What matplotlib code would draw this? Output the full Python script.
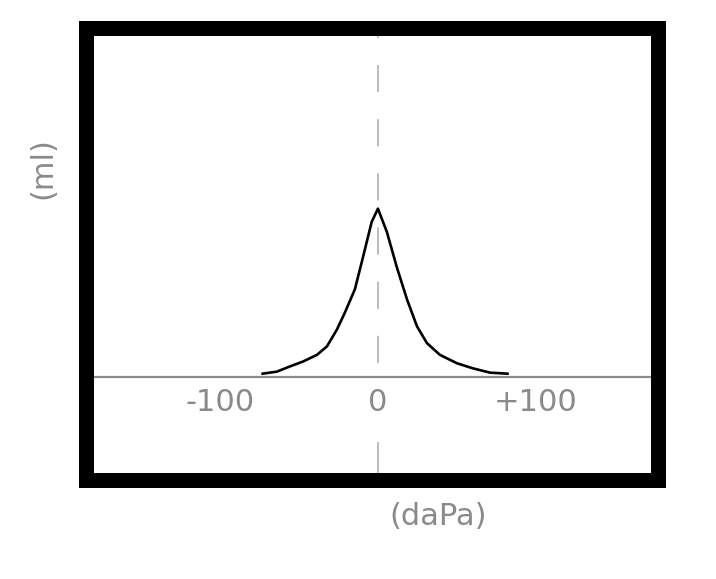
import matplotlib
matplotlib.use("Agg")
import matplotlib.pyplot as plt
from matplotlib.patches import Rectangle

# pressure (daPa) vs admittance (ml)
pressure = [-73, -64, -56, -47.5, -38.6, -32.3, -26, -21, -14.6, -9.5, -4, 0,
            5.7, 12, 18.4, 24.7, 31, 39.2, 50, 60, 71, 82]
volume = [0.018, 0.03, 0.06, 0.09, 0.13, 0.18, 0.28, 0.38, 0.52, 0.71, 0.92, 1.0,
          0.86, 0.65, 0.46, 0.30, 0.20, 0.13, 0.08, 0.05, 0.024, 0.018]
tick_pos = [-100, 0, 100]
tick_labels = ['-100', '0', '+100']

txt_color = '#8a8a8a'
dash_color = '#b5b5b5'
font = 'DejaVu Sans'

ymin, ymax = -0.613, 2.077
fig = plt.figure(figsize=(7.16, 5.79), dpi=100)
ax = fig.add_axes([0.1208, 0.1715, 0.798, 0.7807])
ax.set_xlim(-184.5, 177.2)
ax.set_ylim(ymin, ymax)
ax.axis('off')

# thick frame
ax.add_patch(Rectangle((0, 0), 1, 1, transform=ax.transAxes, fill=False,
                       edgecolor='black', linewidth=10.8, joinstyle='miter',
                       clip_on=False, zorder=5))

base_frac = -ymin / (ymax - ymin)
ax.axhline(0, color='#8c8c8c', linewidth=1.6, zorder=2)
# dashed centre line: above the baseline, plus the short piece under the "0"
ax.axvline(0, ymin=base_frac, ymax=1, color=dash_color, linewidth=1.3,
           linestyle=(22.2, (15, 15)), zorder=1)
ax.axvline(0, ymin=0, ymax=0.081, color=dash_color, linewidth=1.3, zorder=1)
ax.plot(pressure, volume, color='black', linewidth=1.9, zorder=3)

for p, lab in zip(tick_pos, tick_labels):
    ax.text(p, -0.155, lab, ha='center', va='center', fontsize=22,
            color=txt_color, family=font)

ax.text(0.615, -0.0825, '(daPa)', transform=ax.transAxes, ha='center', va='center',
        fontsize=22, color=txt_color, family=font, clip_on=False)
ax.text(-0.076, 0.69, '(ml)', transform=ax.transAxes, ha='center', va='center',
        rotation=90, fontsize=22, color=txt_color, family=font, clip_on=False)

fig.savefig('out.png', dpi=100, facecolor='white')
